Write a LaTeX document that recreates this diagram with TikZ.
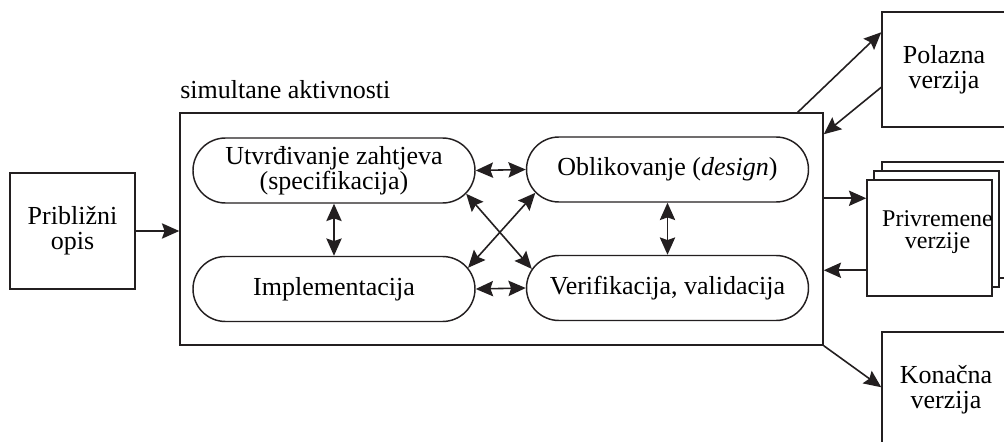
\documentclass[tikz,border=0pt]{standalone}
\usepackage{fontspec}
\setmainfont{Liberation Serif}
\usetikzlibrary{shapes.misc,arrows.meta,calc}
\definecolor{ink}{HTML}{231F20}
\begin{document}
\begin{tikzpicture}[x=0.75pt,y=-0.75pt,
  every node/.style={text=black},
  lbl/.style={font=\fontsize{19.5}{18.5}\selectfont,align=center},
  box/.style={draw=ink,line width=1.1pt,rectangle,inner sep=0pt,lbl},
  activity/.style={draw=ink,line width=1.1pt,rounded rectangle,inner sep=0pt,
    minimum width=211.5pt,minimum height=48.75pt,lbl},
  tip/.tip={Stealth[length=13pt,width=11.5pt,inset=2pt]},
  arr/.style={draw=ink,line width=1.2pt,-tip},
  darr/.style={draw=ink,line width=1.2pt,tip-tip}]
\useasboundingbox (0,0) rectangle (1004,442);
\clip (0,0) rectangle (1004,442);

% initial description
\node[box,minimum width=93.75pt,minimum height=87pt] (opis) at (72.5,231) {Približni\\opis};

% frame of simultaneous activities
\node[draw=ink,line width=1.1pt,rectangle,inner sep=0pt,minimum width=482.25pt,minimum height=174pt] (sim) at (501.5,229) {};
\node[lbl,anchor=base west,inner sep=0pt] (simlbl) at (180,99) {simultane aktivnosti};

% the four activities
\node[activity] (utv) at (334,170.5) {Utvrđivanje zahtjeva\\(specifikacija)};
\node[activity] (impl) at (334,289) {Implementacija};
\node[activity] (obl) at (667.5,169.5) {Oblikovanje (\textit{design})};
\node[activity] (ver) at (667.5,288) {Verifikacija, validacija};

% versions
\node[box,minimum width=93pt,minimum height=86.25pt] (pol) at (944,69.5) {Polazna\\verzija};
\node[box,minimum width=93.75pt,minimum height=87pt] (privC) at (944.5,220) {};
\node[box,minimum width=93.75pt,minimum height=87pt,fill=white] (privB) at (936.5,229) {};
\node[box,minimum width=93.75pt,minimum height=87pt,fill=white] (privA) at (929.5,238) {};
\node[lbl,font=\fontsize{18}{16.5}\selectfont,inner sep=0pt] (privT) at (937.5,232) {Privremene\\verzije};
\node[box,minimum width=96pt,minimum height=87pt] (kon) at (946,390) {Konačna\\verzija};

% connectors
\draw[arr] (opis.east) -- (opis.east -| sim.west);
\draw[darr] (utv.east) -- (obl.west);
\draw[darr] (impl.east) -- (ver.west);
\draw[darr] (utv.south) -- (impl.north);
\draw[darr] (obl.south) -- (ver.north);
\draw[darr] (utv.-10) -- (ver.172);
\draw[darr] (obl.190) -- (impl.9);

\draw[arr] ($(sim.north east)+(-26,0)$) -- ($(pol.north west)+(0,21)$);
\draw[arr] ($(pol.north west)+(0,76)$) -- ($(sim.north east)+(0,22)$);
\draw[arr] ($(sim.north east)+(0,86)$) -- ($(privA.north west)+(0,19)$);
\draw[arr] ($(privA.north west)+(0,91)$) -- ($(sim.north east)+(0,158)$);
\draw[arr] (sim.south east) -- ($(kon.north west)+(0,56)$);
\end{tikzpicture}
\end{document}
